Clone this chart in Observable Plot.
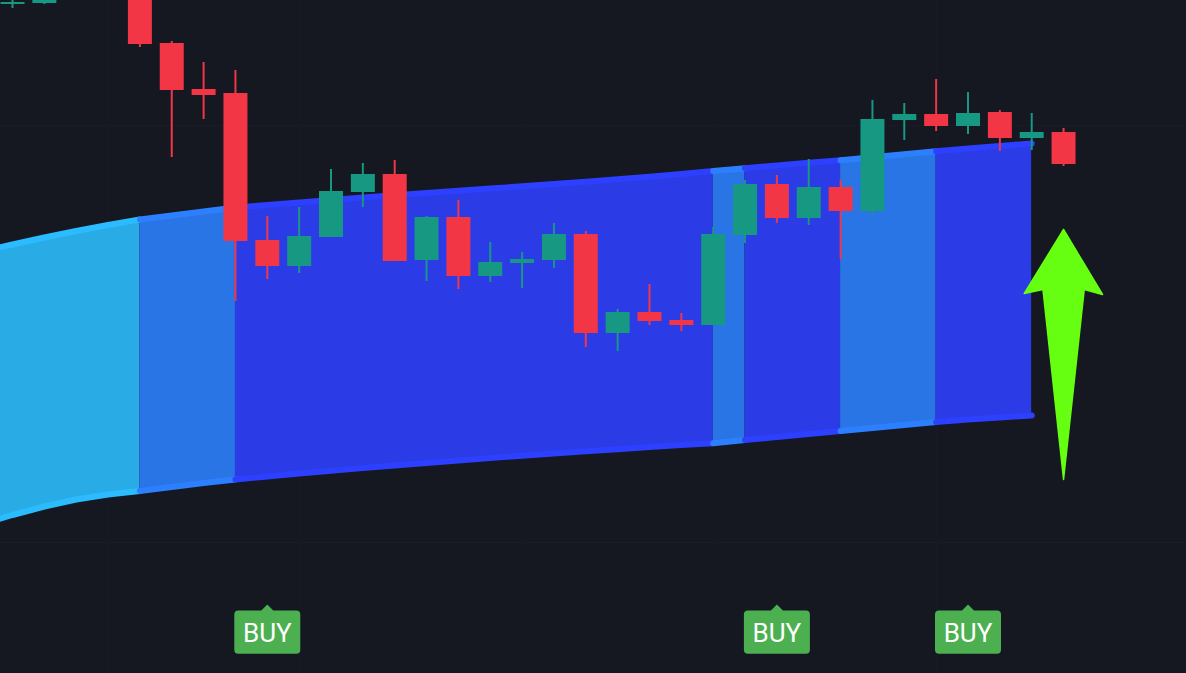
<!DOCTYPE html>
<html>
<head>
<meta charset="utf-8">
<script src="https://cdn.jsdelivr.net/npm/d3@7"></script>
<script src="https://cdn.jsdelivr.net/npm/@observablehq/plot@0.6"></script>
<style>
  html, body { margin: 0; padding: 0; background: #151721; overflow: hidden; }
  #chart svg { display: block; }
</style>
</head>
<body>
<div id="chart"></div>
<script>
// ---- Candles (bar index, OHLC prices) ----
const candleIndex = [0,1,4,5,6,7,8,9,10,11,12,13,14,15,16,17,18,19,20,21,22,23,24,25,26,27,28,29,30,31,32,33];
const open  = [119.8,119.85,120.5,117.85,115.55,115.35,108.0,106.7,108.15,110.4,111.3,107.0,109.15,106.2,106.85,107.0,108.3,103.35,104.4,104.0,103.75,108.25,110.8,109.1,110.65,109.45,114.0,114.3,113.7,114.4,113.1,113.4];
const high  = [120.3,121.25,120.75,117.95,116.9,116.5,109.2,109.65,111.55,111.85,112.0,109.2,110.0,107.9,107.4,108.85,108.45,104.55,105.8,104.35,108.65,111.0,111.25,112.05,111.0,115.0,114.85,116.05,115.4,114.5,114.35,113.6];
const low   = [119.6,119.8,117.65,112.15,114.05,104.95,106.05,106.35,108.15,109.65,106.95,105.95,105.55,105.9,105.6,106.6,102.65,102.45,103.75,103.45,103.75,107.85,108.85,108.75,107.05,109.25,113.0,113.45,113.3,112.45,112.5,111.7];
const close = [119.9,121.0,117.8,115.5,115.25,107.95,106.7,108.2,110.45,111.3,106.95,109.15,106.2,106.9,107.05,108.3,103.35,104.4,103.95,103.75,108.3,110.8,109.1,110.65,109.45,114.05,114.3,113.7,114.35,113.1,113.4,111.8];

// ---- Channel band (bar index, upper, lower, trend level per segment) ----
const bandIndex = d3.range(-1, 33);
const bandUpper = [107.45,107.8,108.15,108.475,108.775,109.05,109.25,109.45,109.65,109.775,109.9,110.025,110.15,110.265,110.38,110.49,110.6,110.71,110.825,110.94,111.06,111.185,111.325,111.475,111.615,111.75,111.885,112.015,112.165,112.315,112.465,112.6,112.725,112.85];
const bandLower = [93.8,94.275,94.7,95.05,95.3,95.475,95.675,95.875,96.05,96.2,96.35,96.49,96.625,96.75,96.875,97.0,97.125,97.24,97.35,97.46,97.565,97.67,97.77,97.865,98.025,98.175,98.325,98.475,98.625,98.775,98.925,99.05,99.15,99.25];
const bandTrend = [3,3,3,3,3,2,2,2,1,1,1,1,1,1,1,1,1,1,1,1,1,1,1,2,1,1,1,2,2,2,1,1,1];

// ---- Signals ----
const buyIndex = [8, 24, 30];
const buyPrice = [89.8, 89.8, 89.8];
const buyText = ["BUY", "BUY", "BUY"];

// ---- Arrow (bar index, tail price, tip price) ----
const arrowIndex = 33;
const arrowTail = 96.05;
const arrowTip = 108.55;

// ---- Grid ----
const gridX = [3, 9, 16, 22, 29];
const gridY = [113.75, 92.9];

// ---------------- build tables ----------------
const UP = "#179882", DOWN = "#f23645";
const candles = candleIndex.map((i, k) => ({
  i, open: open[k], high: high[k], low: low[k], close: close[k],
  color: close[k] >= open[k] ? UP : DOWN
}));

const lineColor = {3: "#2bbcff", 2: "#2c80ff", 1: "#2d3fff"};
const fillColor = {3: "#29abe6", 2: "#2a75e6", 1: "#2b3be6"};

const bandRows = [];
let run = -1, prev = null;
for (let k = 0; k < bandTrend.length; k++) {
  const lv = bandTrend[k];
  if (lv !== prev) {
    run++;
    bandRows.push({i: bandIndex[k], upper: bandUpper[k], lower: bandLower[k], run, level: lv});
    prev = lv;
  }
  bandRows.push({i: bandIndex[k + 1], upper: bandUpper[k + 1], lower: bandLower[k + 1], run, level: lv});
}

const buys = buyIndex.map((i, k) => ({i, price: buyPrice[k], text: buyText[k]}));

// scale geometry
const W = 1186, H = 673;
const step = 31.85;            // px per bar
const firstX = 12;             // px of bar 0
const xDomain = [-firstX / step, (W - firstX) / step];
const yDomain = [86.35, 120];
const pxPerPrice = H / (yDomain[1] - yDomain[0]);

// arrow polygon derived from tail/tip data
const headPts = [[0,0],[39,65],[20.7,60],null,[-20.6,60],[-39.3,64],[0,0]];
const arrowPoly = headPts.map(p => p === null
  ? {x: arrowIndex, y: arrowTail}
  : {x: arrowIndex + p[0] / step, y: arrowTip - p[1] / pxPerPrice});

// BUY label shape
const buySymbol = {
  draw(ctx) {
    const w = 33, top = 6, bot = 49.3, r = 4, tw = 6;
    ctx.moveTo(0, 0);
    ctx.lineTo(tw, top);
    ctx.lineTo(w - r, top);
    ctx.arcTo(w, top, w, top + r, r);
    ctx.lineTo(w, bot - r);
    ctx.arcTo(w, bot, w - r, bot, r);
    ctx.lineTo(-w + r, bot);
    ctx.arcTo(-w, bot, -w, bot - r, r);
    ctx.lineTo(-w, top + r);
    ctx.arcTo(-w, top, -w + r, top, r);
    ctx.lineTo(-tw, top);
    ctx.closePath();
  }
};

const chart = Plot.plot({
  width: W,
  height: H,
  margin: 0,
  style: {background: "#151721", overflow: "hidden"},
  x: {domain: xDomain, axis: null},
  y: {domain: yDomain, axis: null},
  color: {type: "identity"},
  marks: [
    Plot.ruleX(gridX, {stroke: "#191c27", strokeWidth: 1}),
    Plot.ruleY(gridY, {stroke: "#191c27", strokeWidth: 1}),
    Plot.areaY(bandRows, {x: "i", y1: "lower", y2: "upper", z: "run", fill: d => fillColor[d.level], curve: "linear"}),
    Plot.line(bandRows, {x: "i", y: "upper", z: "run", stroke: d => lineColor[d.level], strokeWidth: 6, strokeLinecap: "round", strokeLinejoin: "round"}),
    Plot.line(bandRows, {x: "i", y: "lower", z: "run", stroke: d => lineColor[d.level], strokeWidth: 6, strokeLinecap: "round", strokeLinejoin: "round"}),
    Plot.ruleX(candles, {x: "i", y1: "low", y2: "high", stroke: "color", strokeWidth: 2}),
    Plot.ruleX(candles, {x: "i", y1: "open", y2: "close", stroke: "color", strokeWidth: 24}),
    Plot.dot(buys, {x: "i", y: "price", symbol: buySymbol, fill: "#4caf50", stroke: "none", r: 10}),
    Plot.text(buys, {x: "i", y: "price", text: "text", dy: 28.7, fill: "#ffffff", fontSize: 26, fontFamily: "Roboto"}),
    Plot.line(arrowPoly, {x: "x", y: "y", fill: "#66ff11", stroke: "#66ff11", strokeWidth: 1.5, strokeLinejoin: "round", curve: "linear"})
  ]
});
document.getElementById("chart").appendChild(chart);
</script>
</body>
</html>
